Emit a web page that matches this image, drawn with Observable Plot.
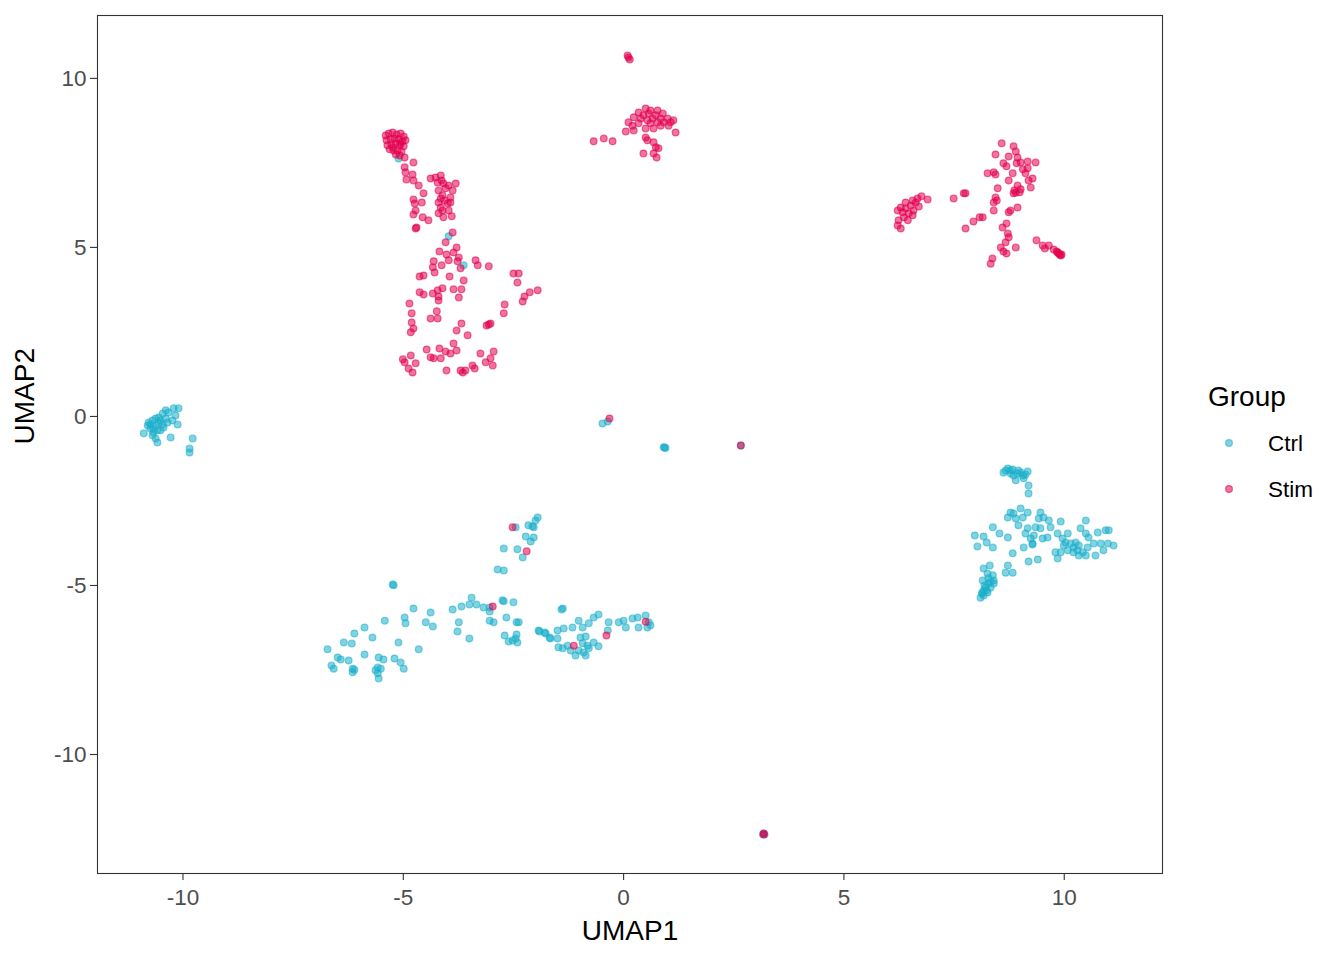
<!DOCTYPE html>
<html>
<head>
<meta charset="utf-8">
<script src="https://cdn.jsdelivr.net/npm/d3@7"></script>
<script src="https://cdn.jsdelivr.net/npm/@observablehq/plot@0.6"></script>
<style>
  html, body { margin: 0; padding: 0; background: #fff; }
  #wrap { position: relative; width: 1344px; height: 960px; font-family: "Liberation Sans", Arial, Helvetica, sans-serif; }
  #chart { position: absolute; left: 0; top: 0; }
  #legend { position: absolute; left: 1190px; top: 360px; }
</style>
</head>
<body>
<div id="wrap">
  <div id="chart"></div>
  <svg id="legend" width="150" height="150"></svg>
</div>
<script>
// ---------- data (UMAP coordinates) ----------
const groups = ["Ctrl", "Stim"];
const groupColors = ["#1AAFCB", "#E2004F"];
const xTicks = [-10, -5, 0, 5, 10];
const yTicks = [-10, -5, 0, 5, 10];
const xDomain = [-11.94, 12.23];
const yDomain = [-13.52, 11.86];

const ctrlPoints = [
  // left cluster
  [-10.80,-0.27],[-10.78,-0.18],[-10.69,-0.12],[-10.62,-0.06],[-10.55,-0.03],[-10.46,0.09],[-10.39,0.18],[-10.33,0.12],
  [-10.21,0.24],[-10.10,0.24],[-10.17,0.03],[-10.12,-0.24],[-10.28,-0.62],[-9.78,-0.65],[-9.85,-0.95],[-9.85,-1.07],
  [-10.74,-0.36],[-10.67,-0.47],[-10.62,-0.65],[-10.58,-0.77],[-10.51,-0.41],[-10.44,-0.33],[-10.89,-0.50],[-10.35,-0.18],
  [-10.24,-0.12],[-10.69,-0.56],[-10.74,-0.24],[-10.62,-0.27],[-10.55,-0.18],[-10.51,-0.12],[-10.46,-0.24],[-10.39,-0.06],
  [-10.67,-0.36],[-10.58,-0.41],
  // bottom-left cluster
  [-5.24,-4.97],[-5.22,-4.99],[-4.77,-5.68],[-4.38,-5.80],[-4.97,-5.95],[-4.95,-6.12],[-4.49,-6.09],[-4.33,-6.21],
  [-5.42,-6.04],[-5.88,-6.24],[-6.11,-6.42],[-5.70,-6.54],[-6.35,-6.69],[-6.17,-6.72],[-5.11,-6.69],[-6.72,-6.89],
  [-4.65,-6.89],[-5.88,-7.04],[-6.49,-7.13],[-6.42,-7.19],[-6.24,-7.22],[-5.56,-7.13],[-5.45,-7.19],[-5.20,-7.16],
  [-5.06,-7.28],[-4.99,-7.46],[-6.63,-7.37],[-6.58,-7.46],[-6.15,-7.46],[-6.11,-7.49],[-6.15,-7.57],[-5.58,-7.43],
  [-5.51,-7.46],[-5.58,-7.60],[-5.56,-7.75],[-5.63,-7.51],
  // bottom-middle cluster
  [-1.95,-2.99],[-2.00,-3.08],[-2.16,-3.22],[-2.07,-3.25],[-2.04,-3.28],[-2.45,-3.28],[-2.22,-3.55],[-2.04,-3.58],
  [-2.11,-3.70],[-2.41,-3.93],[-2.29,-4.17],[-2.72,-3.91],[-2.86,-4.53],[-2.72,-4.56],[-3.45,-5.36],[-2.75,-5.44],
  [-2.72,-5.47],[-2.50,-5.50],[-3.88,-5.71],[-3.68,-5.62],[-3.50,-5.56],[-3.34,-5.56],[-3.18,-5.65],[-3.04,-5.65],
  [-3.04,-5.77],[-2.66,-5.95],[-3.04,-6.04],[-2.95,-6.09],[-2.43,-6.09],[-2.38,-6.09],[-3.74,-6.09],[-3.77,-6.36],
  [-3.50,-6.57],[-2.70,-6.48],[-2.61,-6.66],[-2.52,-6.63],[-2.45,-6.57],[-2.43,-6.45],[-2.41,-6.69],[-1.91,-6.36],
  [-1.77,-6.42],[-1.66,-6.57],[-1.41,-5.71],[-1.38,-5.68],
  [-1.93,-6.33],[-1.79,-6.39],[-1.68,-6.54],[-1.50,-6.33],[-1.36,-6.27],[-1.16,-6.24],[-0.93,-6.24],[-0.79,-6.12],
  [-0.68,-5.95],[-0.57,-5.86],[-1.02,-6.04],[-1.50,-6.57],[-1.48,-6.83],[-1.38,-6.86],[-0.98,-6.54],[-0.86,-6.51],
  [-0.93,-6.71],[-0.82,-6.78],[-0.68,-6.69],[-0.57,-6.80],[-1.02,-6.92],[-0.91,-6.98],[-0.79,-6.86],[-1.27,-6.78],
  [-1.20,-6.92],[-0.36,-6.33],[-0.34,-6.09],[-0.11,-6.09],[0.00,-6.04],[0.05,-6.24],[0.20,-5.98],[0.32,-5.95],
  [0.34,-6.24],[0.50,-5.89],[0.57,-6.09],[0.61,-6.18],[0.54,-6.24],[-0.86,-7.07],[-1.09,-7.07],
  // small middle groups
  [-0.48,-0.21],[-0.36,-0.15],[0.93,-0.92],[0.95,-0.93],[0.91,-0.91],[2.66,-0.86],
  [3.18,-12.34],[3.20,-12.37],[3.16,-12.36],
  // right cluster
  [8.62,-1.66],[8.72,-1.54],[8.78,-1.60],[8.85,-1.75],[8.94,-1.69],[9.06,-1.75],[9.17,-1.63],[9.08,-1.83],
  [8.90,-1.89],[9.19,-2.04],[9.19,-2.28],[8.78,-1.69],[8.67,-1.60],[8.83,-1.57],[8.96,-1.60],[9.01,-1.66],[9.12,-1.72],
  [8.72,-2.99],[8.78,-2.84],[8.85,-2.87],[8.90,-3.02],[9.01,-2.72],[9.17,-2.84],[9.06,-2.99],[8.96,-3.22],
  [9.17,-3.31],[9.35,-3.28],[9.46,-2.84],[9.42,-3.02],[9.53,-2.99],[9.65,-3.08],[9.69,-3.28],[9.92,-3.11],
  [9.85,-3.46],[9.62,-3.58],[9.51,-3.61],[9.31,-3.52],[9.24,-3.61],[9.12,-3.46],[9.28,-3.76],[9.46,-3.31],
  [10.08,-3.46],[9.96,-3.61],[10.03,-3.73],[10.15,-3.76],[10.26,-3.73],[10.33,-3.82],[10.21,-3.88],[10.37,-3.31],
  [10.49,-3.08],[10.49,-3.46],[10.55,-3.58],[10.76,-3.43],[10.67,-3.76],[10.83,-3.76],[10.94,-3.37],[11.01,-3.37],
  [10.99,-3.76],[11.12,-3.82],[10.89,-3.96],[10.71,-4.11],[10.53,-3.88],[10.42,-4.02],[10.33,-4.11],[10.21,-4.02],
  [10.08,-3.96],[9.92,-4.02],[9.85,-4.20],[9.80,-4.02],[9.99,-3.82],[10.49,-4.11],[10.30,-3.96],
  [7.97,-3.52],[8.17,-3.55],[8.03,-3.85],[8.24,-3.73],[8.38,-3.88],[8.38,-3.28],[8.53,-3.46],[8.72,-3.58],
  [8.83,-4.05],[8.72,-4.41],[8.67,-4.62],[8.83,-4.62],[9.19,-4.29],[9.40,-4.23],[9.08,-3.88],[9.28,-3.79],
  [8.17,-4.50],[8.31,-4.41],[8.26,-4.65],[8.38,-4.70],[8.40,-4.85],[8.28,-4.94],[8.22,-5.06],[8.17,-5.15],
  [8.13,-5.24],[8.10,-5.36],[8.17,-5.30],[8.26,-5.21],[8.33,-5.06],[8.40,-4.94],[8.15,-4.85],[8.19,-5.00],
  [8.24,-5.15],[8.15,-5.21],[8.28,-4.79],[8.33,-4.88],
  // ctrl cells inside stim clusters
  [-5.11,7.63],[-3.97,5.33],[-3.63,4.47]
];

const stimPoints = [
  // top-left dense blob
  [-5.40,8.31],[-5.33,8.37],[-5.24,8.40],[-5.15,8.34],[-5.06,8.37],[-4.99,8.28],[-5.38,8.17],[-5.29,8.20],
  [-5.20,8.22],[-5.11,8.20],[-5.02,8.14],[-4.95,8.17],[-5.36,8.02],[-5.27,8.05],[-5.17,8.08],[-5.08,8.02],
  [-4.99,7.99],[-5.31,7.90],[-5.22,7.87],[-5.13,7.87],[-5.04,7.84],[-5.17,7.75],[-5.08,7.72],[-5.24,7.96],[-5.06,8.08],
  // chain
  [-4.97,7.66],[-4.77,7.51],[-4.97,7.37],[-4.95,7.22],[-4.79,7.16],[-4.93,7.01],[-4.77,6.98],[-4.65,6.83],
  [-4.54,6.60],[-4.77,6.42],[-4.58,6.33],[-4.74,6.30],[-4.72,6.09],[-4.77,5.97],[-4.56,5.89],[-4.43,5.80],
  [-4.70,5.59],[-4.72,5.56],
  // second blob
  [-4.38,7.04],[-4.27,7.07],[-4.15,7.13],[-4.22,6.92],[-4.09,6.89],[-3.81,6.89],[-3.88,6.68],[-4.20,6.68],
  [-4.11,6.54],[-3.93,6.48],[-4.20,6.33],[-3.99,6.30],[-4.15,6.18],[-3.93,6.33],[-4.11,6.09],[-3.97,6.09],
  [-4.09,5.89],[-3.90,5.92],[-4.20,6.01],[-4.13,6.98],[-4.04,6.75],[-3.97,6.83],[-4.15,6.45],[-4.06,6.39],
  // lower scattered group
  [-3.88,5.44],[-4.04,5.15],[-3.79,5.00],[-4.18,4.88],[-4.02,4.79],[-3.86,4.85],[-3.74,4.70],[-3.77,4.59],
  [-4.31,4.59],[-4.13,4.47],[-3.97,4.62],[-4.33,4.41],[-4.29,4.26],[-3.70,4.38],[-3.36,4.62],[-3.31,4.47],
  [-3.06,4.44],[-4.63,4.14],[-4.54,4.17],[-3.95,4.14],[-3.63,4.02],[-2.50,4.23],[-2.38,4.23],[-2.41,3.96],
  [-4.63,3.67],[-4.54,3.61],[-4.33,3.64],[-4.22,3.73],[-4.11,3.79],[-4.20,3.55],[-4.20,3.43],[-3.86,3.76],
  [-3.68,3.76],[-3.74,3.52],[-1.95,3.73],[-2.13,3.67],[-2.25,3.55],[-2.29,3.40],[-2.70,3.31],[-2.72,3.05],
  [-4.86,3.34],[-4.81,3.05],[-4.81,2.78],[-4.77,2.60],[-4.83,2.49],[-4.38,2.90],[-4.24,3.11],[-4.22,2.90],
  [-3.68,2.75],[-3.79,2.54],[-3.54,2.40],[-3.11,2.69],[-3.02,2.75],[-3.06,2.72],[-4.47,1.98],[-4.18,2.01],
  [-3.86,2.16],[-4.04,1.92],[-3.93,1.86],[-3.79,1.95],[-4.31,1.72],[-4.15,1.72],[-4.38,1.75],[-5.01,1.69],
  [-4.83,1.80],[-4.97,1.60],[-4.72,1.57],[-4.88,1.42],[-4.79,1.30],[-3.25,1.86],[-2.95,1.92],[-3.02,1.72],
  [-3.13,1.60],[-2.97,1.51],[-3.43,1.51],[-3.38,1.42],[-4.02,1.36],[-3.70,1.36],[-3.59,1.36],[-3.65,1.30],
  // top-centre cluster
  [0.09,10.68],[0.14,10.56],[0.11,10.62],
  [0.11,8.70],[0.23,8.85],[0.34,8.99],[0.50,9.11],[0.61,9.05],[0.77,9.05],[0.89,8.96],[1.00,8.81],
  [1.13,8.76],[1.18,8.40],[1.02,8.60],[0.84,8.60],[0.68,8.52],[0.50,8.52],[0.23,8.46],[0.05,8.43],
  [0.34,8.67],[0.54,8.76],[0.66,8.81],[0.77,8.70],[0.91,8.70],[1.07,8.70],[0.45,8.91],[0.20,8.60],
  [0.39,8.81],[0.57,8.96],[0.73,8.91],[0.84,8.81],[0.61,8.67],
  [0.50,8.25],[0.54,8.17],[0.68,8.11],[0.73,7.96],[0.79,7.93],[0.68,7.78],[0.75,7.66],[0.45,7.78],
  [-0.68,8.14],[-0.45,8.22],[-0.25,8.14],
  // right cluster
  [6.22,6.09],[6.29,6.18],[6.40,6.33],[6.56,6.39],[6.63,6.33],[6.76,6.51],[6.90,6.42],[6.70,6.21],
  [6.58,6.09],[6.47,6.01],[6.36,5.89],[6.24,5.80],[6.22,5.65],[6.29,5.56],[6.45,5.80],[6.56,5.95],
  [6.40,6.15],[6.67,6.45],[6.33,6.04],[6.52,6.24],
  [7.49,6.45],[7.72,6.60],[7.76,6.60],[7.94,5.77],[8.08,5.89],[8.15,5.89],[7.76,5.56],
  [8.58,8.08],[8.85,7.99],[8.90,7.84],[8.44,7.75],[8.74,7.69],[8.94,7.66],[9.01,7.51],[9.17,7.54],
  [9.35,7.51],[8.62,7.49],[8.69,7.40],[8.92,7.49],[8.26,7.19],[8.40,7.22],[8.44,7.16],[8.83,7.19],
  [9.06,7.31],[9.17,7.34],[9.12,7.19],[9.28,7.04],[8.74,6.98],[8.94,6.83],[9.19,6.98],[8.90,6.62],
  [8.85,6.60],[9.01,6.72],[9.24,6.77],[8.49,6.75],[8.44,6.48],[8.47,6.39],[8.40,6.33],[8.40,6.09],
  [8.74,6.04],[8.78,6.09],[8.94,6.18],[8.60,5.59],[8.69,5.71],[8.72,5.41],[8.74,5.30],[8.67,5.15],
  [8.56,5.00],[8.62,4.88],[8.90,5.00],[8.69,4.82],[8.37,4.67],[8.33,4.52],[8.87,6.69],[8.99,6.63],
  [9.37,5.21],[9.51,5.06],[9.56,4.97],[9.65,5.06],[9.76,4.94],[9.87,4.82],[9.92,4.76],[9.85,4.85],
  [9.90,4.79],[9.94,4.79],[9.83,4.88],
  // stim cells in ctrl regions / small groups
  [-2.52,-3.28],[-2.20,-3.99],[-2.97,-5.62],[-1.13,-6.78],[-0.39,-6.48],[0.50,-6.07],
  [-0.32,-0.06],[2.66,-0.86],[3.18,-12.34],[3.18,-12.37]
];

// ---------- build table ----------
const cells = [
  ...ctrlPoints.map(([x, y]) => ({x, y, group: groups[0]})),
  ...stimPoints.map(([x, y]) => ({x, y, group: groups[1]}))
];

const W = 1180, H = 960;
const fmt = d => String(d);
const FONT = '"Liberation Sans", Arial, Helvetica, sans-serif';
const dotStyle = {r: 3.4, fillOpacity: 0.55, strokeOpacity: 0.55, strokeWidth: 1.2};

const chart = Plot.plot({
  width: W,
  height: H,
  marginLeft: 97,
  marginRight: W - 1162,
  marginTop: 15,
  marginBottom: H - 873,
  style: {fontFamily: FONT, background: "#fff"},
  x: {domain: xDomain},
  y: {domain: yDomain},
  color: {domain: groups, range: groupColors},
  marks: [
    Plot.axisX(xTicks, {tickSize: 7, tickPadding: 9, fontSize: 22.5, color: "#4D4D4D", stroke: "#333", strokeWidth: 1.1, tickFormat: fmt, label: null}),
    Plot.axisY(yTicks, {tickSize: 7, tickPadding: 4, fontSize: 22.5, color: "#4D4D4D", stroke: "#333", strokeWidth: 1.1, tickFormat: fmt, label: null}),
    Plot.dot(cells, {
      x: "x", y: "y", r: dotStyle.r,
      fill: "group", fillOpacity: dotStyle.fillOpacity,
      stroke: "group", strokeOpacity: dotStyle.strokeOpacity, strokeWidth: dotStyle.strokeWidth
    }),
    Plot.frame({stroke: "#333", strokeWidth: 1.1}),
    Plot.text(["UMAP1"], {frameAnchor: "bottom", dy: 66, fontSize: 28, fill: "#000"}),
    Plot.text(["UMAP2"], {frameAnchor: "left", dx: -72, rotate: -90, fontSize: 28, fill: "#000"})
  ]
});
document.getElementById("chart").appendChild(chart);

// ---------- legend ----------
const lg = d3.select("#legend").style("font-family", FONT);
lg.append("text").attr("x", 18).attr("y", 46).attr("font-size", 28).attr("fill", "#000").text("Group");
groups.forEach((g, i) => {
  const cy = 83 + i * 46;
  lg.append("circle").attr("cx", 39).attr("cy", cy).attr("r", dotStyle.r)
    .attr("fill", groupColors[i]).attr("fill-opacity", dotStyle.fillOpacity)
    .attr("stroke", groupColors[i]).attr("stroke-opacity", dotStyle.strokeOpacity)
    .attr("stroke-width", dotStyle.strokeWidth);
  lg.append("text").attr("x", 78).attr("y", cy + 8).attr("font-size", 22.5).attr("fill", "#000").text(g);
});
</script>
</body>
</html>
